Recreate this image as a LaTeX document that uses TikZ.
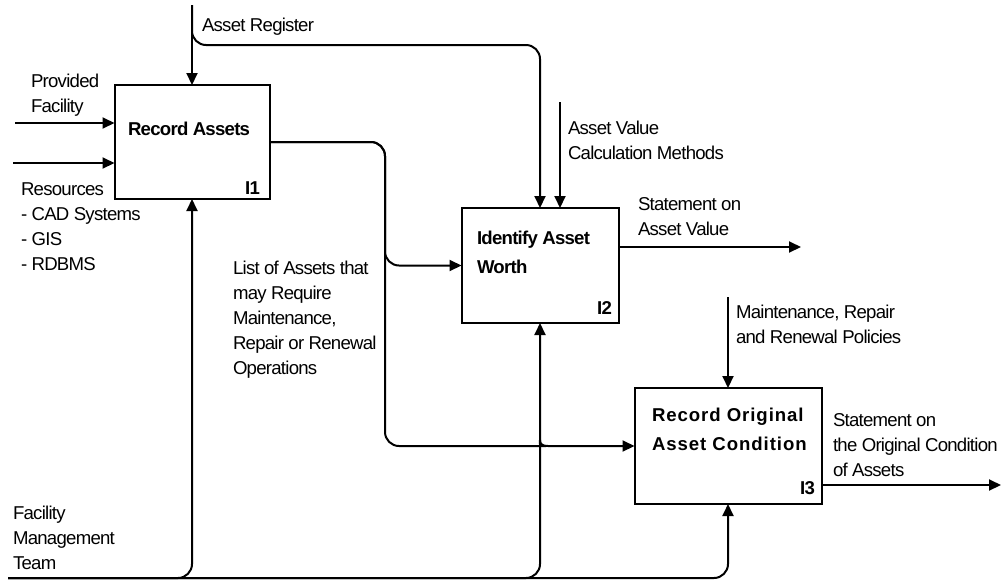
\documentclass[tikz,border=0pt]{standalone}
\usepackage{fontspec}
\setmainfont{Liberation Sans}
\newfontfamily\lblfont[LetterSpace=-4]{Liberation Sans}
\newfontfamily\widefont[LetterSpace=5]{Liberation Sans}
\usetikzlibrary{arrows.meta,calc}

\begin{document}
\begin{tikzpicture}[x=1pt,y=-1pt,
  every node/.style={inner sep=0pt, outer sep=0pt},
  proc/.style={draw, line width=2pt, rectangle},
  lbl/.style={anchor=west, align=left, font=\lblfont\fontsize{18.6}{25}\selectfont},
  ttl/.style={anchor=west, align=left, font=\lblfont\bfseries\fontsize{18.6}{29}\selectfont},
  ttlwide/.style={anchor=west, align=left, font=\widefont\bfseries\fontsize{18.6}{29}\selectfont},
  tag/.style={anchor=east, font=\lblfont\bfseries\fontsize{18.6}{25}\selectfont},
  flow/.style={line width=2pt, -{Triangle[length=12pt,width=11pt]}}]

\fill[white] (0,0) rectangle (1004,582);
\useasboundingbox (0,0) rectangle (1004,582);

% activity boxes
\node[proc, minimum width=155pt, minimum height=114pt] (b1) at (192,142) {};
\node[proc, minimum width=157pt, minimum height=115pt] (b2) at (540,265.5) {};
\node[proc, minimum width=187pt, minimum height=116pt] (b3) at (728,446) {};

% box titles and numbers
\node[ttl] (tRA) at (128,129) {Record Assets};
\node[ttl] (tIA) at (477,252) {Identify Asset\\Worth};
\node[ttlwide] (tRO) at (652,429) {Record Original\\Asset Condition};
\node[tag] (i1) at (260,188) {I1};
\node[tag] (i2) at (612,308) {I2};
\node[tag] (i3) at (815,488) {I3};

% arrow labels
\node[lbl] (tAR) at (202,27) {Asset Register};
\node[lbl] (tPF) at (31,95) {Provided\\Facility};
\node[lbl] (tRes) at (21,227) {Resources\\- CAD Systems\\- GIS\\- RDBMS};
\node[lbl] (tList) at (233,320) {List of Assets that\\may Require\\Maintenance,\\Repair or Renewal\\Operations};
\node[lbl] (tAV) at (568,140) {Asset Value\\Calculation Methods};
\node[lbl] (tSV) at (638,217) {Statement on\\Asset Value};
\node[lbl] (tMR) at (736,324) {Maintenance, Repair\\and Renewal Policies};
\node[lbl] (tSO) at (833,445) {Statement on\\the Original Condition\\of Assets};
\node[lbl] (tFM) at (13,538) {Facility\\Management\\Team};

% free ends and bends
\coordinate (ar) at (192,5);
\coordinate (arj) at (540,45);
\coordinate (av) at (560,102);
\coordinate (pf) at (15,123);
\coordinate (rs) at (13,163);
\coordinate (sp) at (385,0);
\coordinate (so1) at (801,247);
\coordinate (mr) at (728,297);
\coordinate (so2) at (1001,485);
\coordinate (fm) at (8,578);
\coordinate (hop) at (b2.south |- b3.west);

% controls from above
\draw[flow] (ar) -- (b1.north);
\draw[flow, rounded corners=14pt] (ar) |- (arj) -- (b2.north);
\draw[flow] (av) -- (av |- b2.north);
\draw[flow] (mr) -- (b3.north);

% inputs
\draw[flow] (pf) -- (pf -| b1.west);
\draw[flow] (rs) -- (rs -| b1.west);
\draw[flow, rounded corners=14pt] (b1.east) -| (sp |- b2.west) -- (b2.west);
\draw[flow, rounded corners=14pt] (b1.east) -| (sp |- b3.west) -- ($(hop)+(-8,0)$)
  [sharp corners] .. controls ($(hop)+(-2,0)$) and ($(hop)+(0,-2)$) .. ($(hop)+(0,-6)$)
  .. controls ($(hop)+(0,-2)$) and ($(hop)+(2,0)$) .. ($(hop)+(8,0)$) -- (b3.west);

% outputs
\draw[flow] (b2.east |- so1) -- (so1);
\draw[flow] (so2 -| b3.east) -- (so2);

% mechanism from below
\draw[flow, rounded corners=14pt] (fm) -| (b1.south);
\draw[flow, rounded corners=14pt] (fm) -| (b2.south);
\draw[flow, rounded corners=14pt] (fm) -| (b3.south);
\end{tikzpicture}
\end{document}
